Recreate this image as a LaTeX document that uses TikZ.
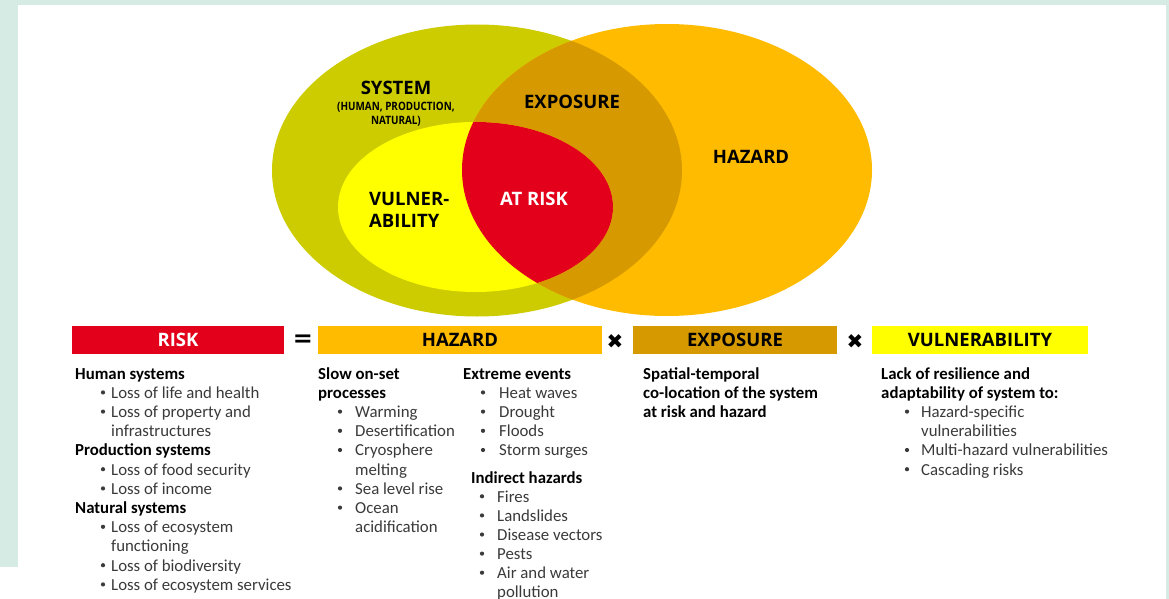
\documentclass[tikz,border=0pt]{standalone}
\usepackage{fontspec}
\setmainfont{Carlito}
\newfontfamily\osfont{Open Sans}
\newfontfamily\djv{DejaVu Sans}
\definecolor{mint}{HTML}{D6EBE3}
\definecolor{olivec}{HTML}{CCCC00}
\definecolor{hazc}{HTML}{FFBB00}
\definecolor{expc}{HTML}{D69A00}
\definecolor{vulc}{HTML}{FFFF00}
\definecolor{riskc}{HTML}{E2001A}
\definecolor{txtgrey}{HTML}{3A3A3A}
\tikzset{
  lab/.style={inner sep=0pt, font=\osfont\bfseries\fontsize{18.5}{22}\selectfont, text=black},
  sublab/.style={inner sep=0pt, align=center, xscale=0.86, font=\osfont\bfseries\fontsize{11.5}{14}\selectfont, text=black},
  barbox/.style={inner sep=0pt, minimum height=28pt, font=\osfont\bfseries\fontsize{18.5}{22}\selectfont, text=black},
  opsym/.style={inner sep=0pt, font=\djv\bfseries\fontsize{20}{22}\selectfont, text=black},
  hd/.style={anchor=base west, inner sep=0pt, font=\bfseries\fontsize{16.8}{19.2}\selectfont, text=black},
  itm/.style={anchor=base west, inner sep=0pt, font=\fontsize{16.8}{19.2}\selectfont, text=txtgrey},
  bul/.style={circle, fill=txtgrey, inner sep=0pt, minimum size=4.2pt}
}
% #1 prefix, #2 header x, #3 bullet centre x, #4 item x, #5 first baseline, #6 step, #7 list
\newcommand{\textcol}[7]{%
  \foreach \k/\t [count=\i from 0] in {#7}{%
    \if\k h\node[hd] (#1\i) at (#2, #5+#6*\i) {\t};\fi
    \if\k b\node[itm] (#1\i) at (#4, #5+#6*\i) {\t};
           \node[bul] (#1b\i) at (#3, #5+#6*\i-5.8) {};\fi
    \if\k c\node[itm] (#1\i) at (#4, #5+#6*\i) {\t};\fi
  }%
}
\begin{document}
\begin{tikzpicture}[x=1pt,y=-1pt]
\useasboundingbox (0,0) rectangle (1169,599);
% background
\fill[mint] (0,0) rectangle (1169,599);
\fill[white] (18,5) rectangle (1166,599);
\fill[white] (0,567) rectangle (18,599);
% Venn ellipses
\fill[olivec] (477,170.5) ellipse [x radius=205, y radius=146];
\fill[hazc] (667,170) ellipse [x radius=205, y radius=146];
\begin{scope}
  \clip (477,170.5) ellipse [x radius=205, y radius=146];
  \fill[expc] (667,170) ellipse [x radius=205, y radius=146];
\end{scope}
\fill[vulc] (475.5,207) ellipse [x radius=137.5, y radius=85];
\begin{scope}
  \clip (475.5,207) ellipse [x radius=137.5, y radius=85];
  \fill[riskc] (667,170) ellipse [x radius=205, y radius=146];
\end{scope}
% ellipse labels
\node[lab] (system) at (396,88) {SYSTEM};
\node[sublab] (systemsub) at (396,114) {(HUMAN, PRODUCTION,\\NATURAL)};
\node[lab] (exposure) at (572,101.5) {EXPOSURE};
\node[lab, anchor=west, align=left] (vuln) at (369,210) {VULNER-\\ABILITY};
\node[lab, text=white] (atrisk) at (534,198.5) {AT RISK};
\node[lab] (hazard) at (751,157) {HAZARD};
% equation bars
\node[barbox, fill=riskc, text=white, minimum width=212pt] (riskbar) at (178,340) {RISK};
\node[opsym, font=\djv\bfseries\fontsize{24}{26}\selectfont] (eq) at (303,341) {=};
\node[barbox, fill=hazc, minimum width=284pt] (hazbar) at (460,340) {HAZARD};
\node[opsym] (x1) at (615,341.5) {✖};
\node[barbox, fill=expc, minimum width=204pt] (expbar) at (735,340) {EXPOSURE};
\node[opsym] (x2) at (855,341.5) {✖};
\node[barbox, fill=vulc, minimum width=216pt] (vulbar) at (980,340) {VULNERABILITY};
% text columns
\textcol{ri}{75}{103}{111}{379}{19.2}{h/Human systems, b/Loss of life and health, b/Loss of property and, c/infrastructures, h/Production systems, b/Loss of food security, b/Loss of income, h/Natural systems, b/Loss of ecosystem, c/functioning, b/Loss of biodiversity, b/Loss of ecosystem services}
\textcol{sl}{318}{340}{355}{379}{19.2}{h/Slow on-set, h/processes, b/Warming, b/Desertification, b/Cryosphere, c/melting, b/Sea level rise, b/Ocean, c/acidification}
\textcol{ex}{463}{483}{499}{379}{19.2}{h/Extreme events, b/Heat waves, b/Drought, b/Floods, b/Storm surges}
\textcol{in}{471}{482}{497}{483}{19.1}{h/Indirect hazards, b/Fires, b/Landslides, b/Disease vectors, b/Pests, b/Air and water, c/pollution}
\textcol{sp}{643}{0}{0}{379}{19.2}{h/Spatial-temporal, h/co-location of the system, h/at risk and hazard}
\textcol{la}{881}{907}{921}{379}{19.2}{h/Lack of resilience and, h/adaptability of system to:, b/Hazard-specific, c/vulnerabilities, b/Multi-hazard vulnerabilities, b/Cascading risks}
\end{tikzpicture}
\end{document}
